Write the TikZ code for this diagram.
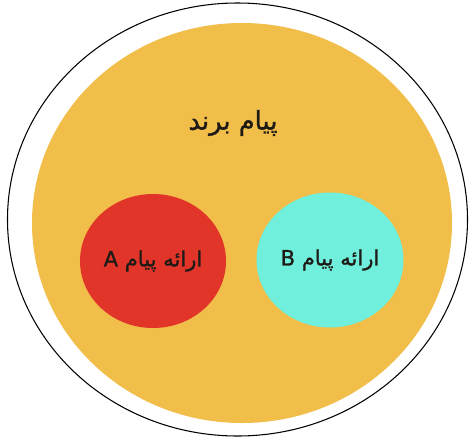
\documentclass[tikz,border=0pt]{standalone}
\usepackage{fontspec}
\usetikzlibrary{shapes.geometric}
\newfontfamily\arabicfont[Script=Arabic,FakeBold=1.2]{DejaVu Sans}
\TeXXeTstate=1
\definecolor{textcol}{HTML}{1E1A16}
\definecolor{brandcol}{HTML}{F1BE4A}
\definecolor{msgAcol}{HTML}{E2352A}
\definecolor{msgBcol}{HTML}{70F0DC}

\begin{document}
\begin{tikzpicture}[x=0.03cm,y=-0.03cm,
  blob/.style={ellipse,inner sep=0pt},
  label/.style={font=\arabicfont\fontsize{18}{21}\selectfont,text=textcol}]
\useasboundingbox (0,0) rectangle (470,437);
% outer ring and brand area
\node[blob,draw=black,line width=0.9pt,fill=white,minimum width=13.8cm,minimum height=12.99cm] (rim) at (237.5,219.5) {};
\node[blob,fill=brandcol,minimum width=12.6cm,minimum height=12cm] (brand) at (242,223) {};
\node[label,font=\arabicfont\fontsize{22}{26}\selectfont] (brandlbl) at (233,123) {\beginR پیام برند\endR};
% the two messages
\node[blob,label,fill=msgAcol,minimum width=4.38cm,minimum height=4.02cm] (msgA) at (153,261) {\beginR ارائه پیام A\endR};
\node[blob,label,fill=msgBcol,minimum width=4.41cm,minimum height=4.05cm] (msgB) at (330,260) {\beginR ارائه پیام B\endR};
\end{tikzpicture}
\end{document}
